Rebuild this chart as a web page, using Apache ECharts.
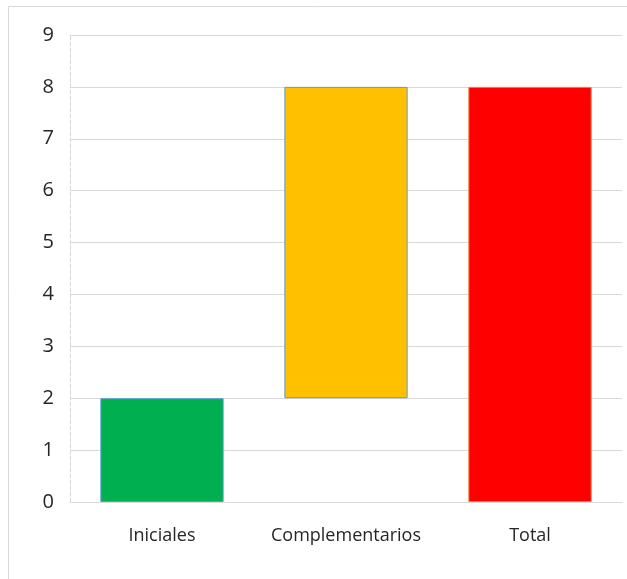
<!DOCTYPE html>
<html><head><meta charset="utf-8">
<script src="https://cdn.jsdelivr.net/npm/echarts@6/dist/echarts.min.js"></script>
<style>html,body{margin:0;padding:0;background:#fff}#c{width:627px;height:579px}</style>
</head><body><div id="c"></div>
<script>
const categories = ['Iniciales', 'Complementarios', 'Total'];
const baseValues = [0, 2, 0];
const barValues = [2, 6, 8];
const barColors = ['#00B050', '#FFC000', '#FF0000'];
const borderColors = ['#5B9BD5', '#5B9BD5', '#ED7D31'];
const yTicks = [0, 1, 2, 3, 4, 5, 6, 7, 8, 9];

const chart = echarts.init(document.getElementById('c'));
chart.setOption({
  animation: false,
  graphic: [
    { type: 'polyline', shape: { points: [[8.5, 579], [8.5, 6.5], [627, 6.5]] },
      style: { stroke: '#D9D9D9', lineWidth: 1, fill: null } }
  ],
  grid: { left: 70, right: 5, top: 35, bottom: 77, containLabel: false },
  xAxis: {
    type: 'category', data: categories,
    axisLine: { lineStyle: { color: '#D9D9D9' } },
    axisTick: { show: false },
    axisLabel: { color: '#262626', fontFamily: 'Open Sans', fontSize: 18, margin: 25,
      interval: 0, hideOverlap: false }
  },
  yAxis: {
    type: 'value', min: yTicks[0], max: yTicks[yTicks.length - 1], interval: 1,
    axisLine: { show: true, lineStyle: { color: '#D9D9D9', type: 'dashed' } },
    axisTick: { show: false },
    splitLine: { lineStyle: { color: '#D9D9D9' } },
    axisLabel: { color: '#262626', fontFamily: 'Open Sans', fontSize: 20, margin: 16 }
  },
  series: [
    { type: 'bar', stack: 'w', data: baseValues, barWidth: '67%',
      itemStyle: { color: 'transparent' }, silent: true },
    { type: 'bar', stack: 'w', barWidth: '67%',
      data: barValues.map((v, i) => ({ value: v,
        itemStyle: { color: barColors[i], borderColor: borderColors[i], borderWidth: 1 } })) }
  ]
});
</script></body></html>
